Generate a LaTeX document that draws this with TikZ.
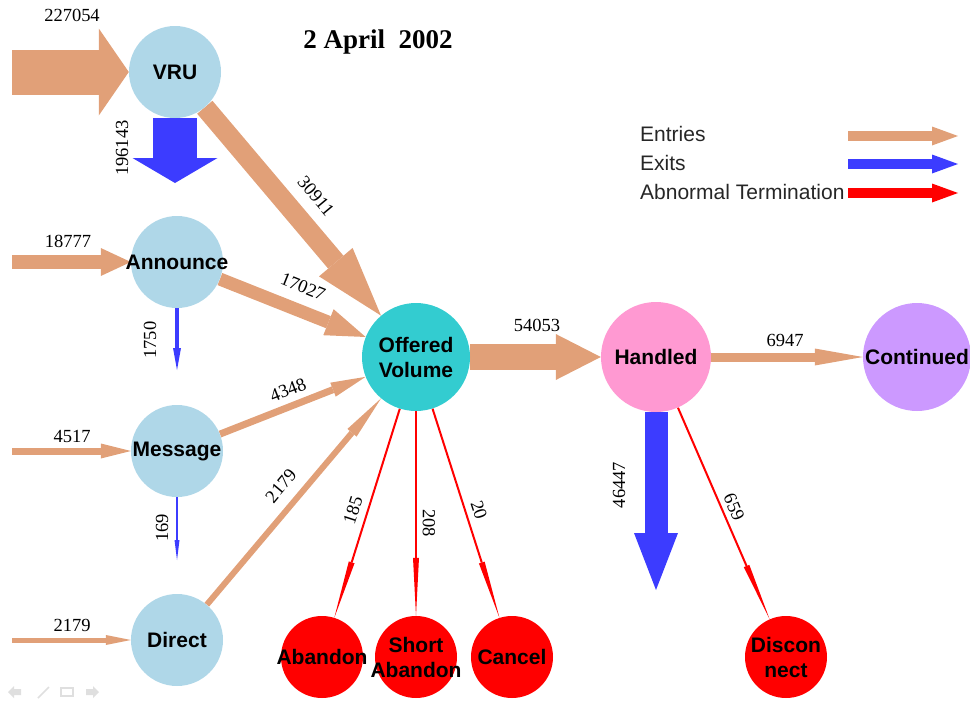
\documentclass[tikz,border=0pt]{standalone}
\usepackage{fontspec}
\setmainfont{Liberation Serif}
\newfontfamily\arialfont{Liberation Sans}
\usetikzlibrary{arrows.meta,backgrounds}
\definecolor{entrycol}{RGB}{225,160,120}
\definecolor{exitcol}{RGB}{60,60,255}
\definecolor{stncol}{RGB}{175,215,232}
\definecolor{offcol}{RGB}{51,204,208}
\definecolor{hndcol}{RGB}{255,153,210}
\definecolor{concol}{RGB}{204,153,255}

\begin{document}
\begin{tikzpicture}[x=1pt,y=-1pt,
    stn/.style={circle,minimum size=#1,inner sep=0pt},
    lbl/.style={font=\arialfont\bfseries\fontsize{21}{25}\selectfont,align=center},
    num/.style={font=\fontsize{18.5}{20}\selectfont,inner sep=0pt},
    leg/.style={font=\arialfont\fontsize{21}{24}\selectfont,text=black!85,inner sep=0pt,anchor=west},
    entry/.style={draw=entrycol},
    exit/.style={draw=exitcol},
    abn/.style={draw=red},
    fat/.style args={#1/#2/#3}{line width=#1,-{Triangle[length=#3,width=#2,line width=0pt]}}]
      \useasboundingbox (0,0) rectangle (970,704);

        \node[stn=92pt,fill=stncol,label={[lbl]center:VRU}] (vru) at (175,72) {};
        \node[stn=92pt,fill=stncol,label={[lbl]center:Announce}] (ann) at (177,262) {};
        \node[stn=92pt,fill=stncol,label={[lbl]center:Message}] (msg) at (177,451) {};
        \node[stn=92pt,fill=stncol,label={[lbl]center:Direct}] (dir) at (177,640) {};
        \node[stn=108pt,fill=offcol,label={[lbl]center:Offered\\Volume}] (off) at (416,357) {};
        \node[stn=110pt,fill=hndcol,label={[lbl]center:Handled}] (hnd) at (656,357) {};
        \node[stn=108pt,fill=concol,label={[lbl]center:Continued}] (con) at (917,357) {};
        \node[stn=82pt,fill=red,label={[lbl]center:Abandon}] (aba) at (322,657) {};
        \node[stn=82pt,fill=red,label={[lbl]center:Short\\Abandon}] (sab) at (416,657) {};
        \node[stn=82pt,fill=red,label={[lbl]center:Cancel}] (can) at (512,657) {};
        \node[stn=82pt,fill=red,label={[lbl]center:Discon\\nect}] (dis) at (786,657) {};

        \coordinate (vruin) at (12,72);
        \coordinate (annin) at (12,262);
        \coordinate (msgin) at (12,451);
        \coordinate (dirin) at (12,640);
        \coordinate (vruout) at (175,183);
        \coordinate (annout) at (177,370);
        \coordinate (msgout) at (177,560);
        \coordinate (hndout) at (656,590);

      \begin{scope}[on background layer]
        \draw[entry,fat=45pt/87pt/30pt] (vruin) -- (vru);
        \draw[exit,fat=44pt/85pt/25pt] (vru) -- (vruout);
        \draw[entry,fat=20pt/44pt/70pt] (vru) -- (off);
        \draw[entry,fat=14pt/28pt/30pt] (annin) -- (ann);
        \draw[entry,fat=13pt/28pt/40pt] (ann) -- (off);
        \draw[exit,fat=4pt/8pt/22pt] (ann) -- (annout);
        \draw[entry,fat=7pt/15pt/30pt] (msgin) -- (msg);
        \draw[entry,fat=7pt/15pt/35pt] (msg) -- (off);
        \draw[exit,fat=2pt/5pt/20pt] (msg) -- (msgout);
        \draw[entry,fat=5pt/10pt/25pt] (dirin) -- (dir);
        \draw[entry,fat=6pt/12pt/45pt] (dir) -- (off);
        \draw[entry,fat=26pt/46pt/45pt] (off) -- (hnd);
        \draw[entry,fat=9pt/17pt/48pt] (hnd) -- (con);
        \draw[exit,fat=23pt/44pt/57pt] (hnd) -- (hndout);
        \draw[abn,fat=2pt/6pt/58pt] (off) -- (aba);
        \draw[abn,fat=2pt/6pt/58pt] (off) -- (sab);
        \draw[abn,fat=2pt/6pt/58pt] (off) -- (can);
        \draw[abn,fat=2pt/6pt/58pt] (hnd) -- (dis);
      \end{scope}

        \node[num] (n1) at (72,15) {227054};
        \node[num,rotate=90] (n2) at (122,148) {196143};
        \node[num,rotate=-50] (n3) at (316,196) {30911};
        \node[num] (n4) at (68,241) {18777};
        \node[num,rotate=-22] (n5) at (303,287) {17027};
        \node[num,rotate=90] (n6) at (150,340) {1750};
        \node[num] (n7) at (72,436) {4517};
        \node[num,rotate=21] (n8) at (288,390) {4348};
        \node[num,rotate=90] (n9) at (162,528) {169};
        \node[num] (n10) at (72,625) {2179};
        \node[num,rotate=50] (n11) at (281,486) {2179};
        \node[num] (n12) at (537,325) {54053};
        \node[num] (n13) at (785,340) {6947};
        \node[num,rotate=90] (n14) at (619,485) {46447};
        \node[num,rotate=72] (n15) at (353,510) {185};
        \node[num,rotate=-90] (n16) at (429,523) {208};
        \node[num,rotate=-72] (n17) at (479,510) {20};
        \node[num,rotate=-67] (n18) at (734,507) {659};

        \node[font=\bfseries\fontsize{27}{30}\selectfont] (ttl) at (378,42) {2 April\ \ 2002};

        \node[leg] (ent) at (640,134) {Entries};
        \node[leg] (exi) at (640,163) {Exits};
        \node[leg] (abt) at (640,192) {Abnormal Termination};
        \coordinate (ent1) at (848,136);
        \coordinate (ent2) at (958,136);
        \coordinate (exi1) at (848,164);
        \coordinate (exi2) at (958,164);
        \coordinate (abt1) at (848,193);
        \coordinate (abt2) at (958,193);
        \draw[entry,fat=10pt/19pt/26pt] (ent1) -- (ent2);
        \draw[exit,fat=10pt/19pt/26pt] (exi1) -- (exi2);
        \draw[abn,fat=10pt/19pt/26pt] (abt1) -- (abt2);

        \fill[gray!25] (8,692) -- (14,686) -- (14,689) -- (21,689) -- (21,695) -- (14,695) -- (14,698) -- cycle;
        \draw[gray!25,line width=1.5pt] (38,698) -- (49,687);
        \draw[gray!25,line width=1.5pt] (61,688) rectangle (73,696);
        \fill[gray!25] (99,692) -- (93,686) -- (93,689) -- (86,689) -- (86,695) -- (93,695) -- (93,698) -- cycle;

    \end{tikzpicture}
\end{document}
